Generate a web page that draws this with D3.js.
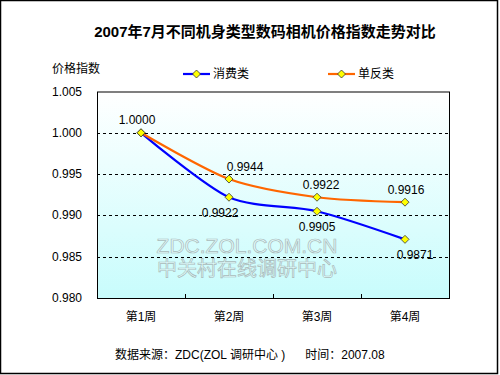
<!DOCTYPE html>
<html>
<head>
<meta charset="utf-8">
<script src="https://cdn.jsdelivr.net/npm/d3@7"></script>
<style>
  body { margin: 0; background: #fff; }
  text { font-family: "Liberation Sans", Arial, "Noto Sans CJK SC", sans-serif; }
</style>
</head>
<body>
<script>
// data
var weeks = ["第1周", "第2周", "第3周", "第4周"];
var seriesNames = ["消费类", "单反类"];
var consumer = [1.0000, 0.9922, 0.9905, 0.9871];
var dslr = [1.0000, 0.9944, 0.9922, 0.9916];
var yTicks = [0.980, 0.985, 0.990, 0.995, 1.000, 1.005];

var w = 500, h = 375;
var plot = { left: 97, top: 91.5, right: 449, bottom: 298 };

var svg = d3.select("body").append("svg")
  .attr("width", w)
  .attr("height", h);

// outer frame
svg.append("rect")
  .attr("x", 0.5).attr("y", 0.5)
  .attr("width", 497).attr("height", 373)
  .attr("fill", "#fff").attr("stroke", "#000").attr("stroke-width", 1.5);

var x = d3.scaleBand().domain(weeks).range([plot.left, plot.right]);
var y = d3.scaleLinear().domain([0.980, 1.005]).range([plot.bottom, plot.top]);

// background gradient
var grad = svg.append("defs").append("linearGradient")
  .attr("id", "bg").attr("x1", 0).attr("y1", 0).attr("x2", 0).attr("y2", 1);
grad.append("stop").attr("offset", "0%").attr("stop-color", "#ffffff");
grad.append("stop").attr("offset", "100%").attr("stop-color", "#c8fcfc");

svg.append("rect")
  .attr("x", plot.left).attr("y", plot.top)
  .attr("width", plot.right - plot.left).attr("height", plot.bottom - plot.top)
  .attr("fill", "url(#bg)");

// dashed gridlines
svg.selectAll("line.grid")
  .data(yTicks.filter(function(d) { return d > 0.980 && d < 1.005; }))
  .enter().append("line")
  .attr("class", "grid")
  .attr("x1", plot.left).attr("x2", plot.right)
  .attr("y1", function(d) { return Math.round(y(d)) + 0.5; })
  .attr("y2", function(d) { return Math.round(y(d)) + 0.5; })
  .attr("stroke", "#000").attr("stroke-dasharray", "3,3");

// watermark (outlined, mostly see-through)
var wm = svg.append("g").attr("fill", "#ffffff").attr("fill-opacity", 0.35)
  .attr("stroke", "#a9baba").attr("stroke-width", 0.7);
wm.append("text").attr("x", 247).attr("y", 253).attr("text-anchor", "middle")
  .style("font-size", "21px").text("ZDC.ZOL.COM.CN");
wm.append("text").attr("x", 247).attr("y", 276).attr("text-anchor", "middle")
  .style("font-size", "20px").text("中关村在线调研中心");

// plot border
svg.append("rect")
  .attr("x", plot.left + 0.5).attr("y", plot.top + 0.5)
  .attr("width", plot.right - plot.left).attr("height", plot.bottom - plot.top)
  .attr("fill", "none").attr("stroke", "#000");

// y axis labels
svg.selectAll("text.ytick")
  .data(yTicks).enter().append("text")
  .attr("class", "ytick")
  .attr("x", 82).attr("y", function(d) { return y(d) + 4; })
  .attr("text-anchor", "end")
  .style("font-size", "12px")
  .text(function(d) { return d3.format(".3f")(d); });

// x ticks and labels
svg.selectAll("line.xtick")
  .data(weeks.slice(1)).enter().append("line")
  .attr("class", "xtick")
  .attr("x1", function(d) { return Math.round(x(d)) + 0.5; })
  .attr("x2", function(d) { return Math.round(x(d)) + 0.5; })
  .attr("y1", plot.bottom - 4).attr("y2", plot.bottom)
  .attr("stroke", "#000");

svg.selectAll("text.xlab")
  .data(weeks).enter().append("text")
  .attr("class", "xlab")
  .attr("x", function(d) { return x(d) + x.bandwidth() / 2; })
  .attr("y", 321)
  .attr("text-anchor", "middle")
  .style("font-size", "12px")
  .text(function(d) { return d; });

// lines
var line = d3.line()
  .x(function(d, i) { return x(weeks[i]) + x.bandwidth() / 2; })
  .y(function(d) { return y(d); })
  .curve(d3.curveCardinal.tension(0.2));

var colors = ["#0000ff", "#ff6600"];
var allSeries = [consumer, dslr];

allSeries.forEach(function(s, k) {
  svg.append("path")
    .datum(s)
    .attr("d", line)
    .attr("fill", "none")
    .attr("stroke", colors[k])
    .attr("stroke-width", 2.2);
});

function diamond(g, cx, cy) {
  g.append("path")
    .attr("d", "M" + cx + "," + (cy - 4) + "L" + (cx + 4) + "," + cy + "L" + cx + "," + (cy + 4) + "L" + (cx - 4) + "," + cy + "Z")
    .attr("fill", "#ffff00").attr("stroke", "#333").attr("stroke-width", 0.8);
}

allSeries.forEach(function(s) {
  s.forEach(function(v, i) {
    diamond(svg, x(weeks[i]) + x.bandwidth() / 2, y(v));
  });
});

// data labels: orange above, blue below, first shared point above
var fmt = d3.format(".4f");
var blueDx = [0, -9, 0, 10];
var orangeDx = [-4, 16, 4, 1];
svg.append("text")
  .attr("x", x(weeks[0]) + x.bandwidth() / 2 - 4).attr("y", y(dslr[0]) - 9)
  .attr("text-anchor", "middle").style("font-size", "12px")
  .text(fmt(dslr[0]));
dslr.forEach(function(v, i) {
  if (i === 0) return;
  svg.append("text")
    .attr("x", x(weeks[i]) + x.bandwidth() / 2 + orangeDx[i]).attr("y", y(v) - 8)
    .attr("text-anchor", "middle").style("font-size", "12px")
    .text(fmt(v));
});
consumer.forEach(function(v, i) {
  if (i === 0) return;
  svg.append("text")
    .attr("x", x(weeks[i]) + x.bandwidth() / 2 + blueDx[i]).attr("y", y(v) + 20)
    .attr("text-anchor", "middle").style("font-size", "12px")
    .text(fmt(v));
});

// title
svg.append("text")
  .attr("x", 265).attr("y", 37)
  .attr("text-anchor", "middle")
  .style("font-size", "15px").style("font-weight", "bold")
  .text("2007年7月不同机身类型数码相机价格指数走势对比");

// y axis title
svg.append("text")
  .attr("x", 52).attr("y", 73)
  .style("font-size", "12px")
  .text("价格指数");

// legend
var legX = [183, 328];
seriesNames.forEach(function(name, k) {
  var g = svg.append("g");
  g.append("line")
    .attr("x1", legX[k]).attr("x2", legX[k] + 27)
    .attr("y1", 74).attr("y2", 74)
    .attr("stroke", colors[k]).attr("stroke-width", 2.2);
  diamond(g, legX[k] + 13.5, 74);
  g.append("text")
    .attr("x", legX[k] + 30).attr("y", 78)
    .style("font-size", "12px")
    .text(name);
});

// footer
svg.append("text")
  .attr("x", 115).attr("y", 359)
  .style("font-size", "12px")
  .attr("xml:space", "preserve")
  .style("white-space", "pre")
  .text("数据来源：ZDC(ZOL 调研中心 )      时间：2007.08");
</script>
</body>
</html>
